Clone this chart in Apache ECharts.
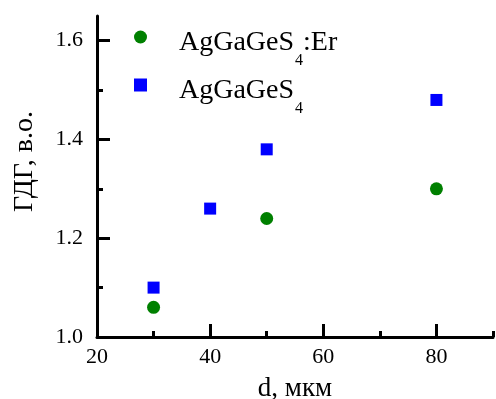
<!DOCTYPE html>
<html>
<head>
<meta charset="utf-8">
<script src="https://cdn.jsdelivr.net/npm/echarts@6/dist/echarts.min.js"></script>
<style>
	html, body { margin: 0; padding: 0; background: #fff; }
	#chart { width: 496px; height: 399px; }
</style>
</head>
<body>
<div id="chart"></div>
<script>
// d, мкм
const erThickness = [30, 50, 80];
const erValues = [1.06, 1.24, 1.3];
const pureThickness = [30, 40, 50, 80];
const pureValues = [1.1, 1.26, 1.38, 1.48];

const xMajorTicks = [20, 40, 60, 80];
const xMinorTicks = [30, 50, 70, 90];
const yMajorTicks = [1.0, 1.2, 1.4, 1.6];
const yMinorTicks = [1.1, 1.3, 1.5];

const FONT = "Liberation Serif";

const toPoints = (xs, ys) => xs.map((x, i) => [x, ys[i]]);

const majorAxis = (min, max, ticks, extra) => ({
	type: "value",
	min,
	max,
	splitLine: { show: false },
	axisLine: { show: true, lineStyle: { color: "#000", width: 3, opacity: 1 } },
	axisTick: { show: true, inside: true, length: 13, lineStyle: { color: "#000", width: 3 }, customValues: ticks },
	axisLabel: { customValues: ticks, color: "#000", fontFamily: FONT, fontSize: 22 },
	...extra
});

// второй ось только для малых делений
const minorAxis = (min, max, ticks, position) => ({
	type: "value",
	min,
	max,
	position,
	splitLine: { show: false },
	axisLine: { show: false },
	axisLabel: { show: false },
	axisTick: { show: true, inside: true, length: 6, lineStyle: { color: "#000", width: 3 }, customValues: ticks }
});

const chart = echarts.init(document.getElementById("chart"));

chart.setOption({
	animation: false,
	grid: { left: 97, top: 16, right: 3, bottom: 62, containLabel: false, outerBoundsMode: "none" },
	legend: {
		orient: "vertical",
		left: 134,
		top: 29,
		padding: 0,
		itemGap: 8,
		itemWidth: 13,
		itemHeight: 13,
		selectedMode: false,
		data: [
			{ name: "er", icon: "circle" },
			{ name: "pure", icon: "rect" }
		],
		formatter: name => (name === "er" ? "{a|AgGaGeS}{s|4}{a|:Er}" : "{a|AgGaGeS}{s|4}"),
		textStyle: {
			padding: [12, 0, 0, 27],
			rich: {
				a: { fontFamily: FONT, fontSize: 28, lineHeight: 28, color: "#000", verticalAlign: "top" },
				s: { fontFamily: FONT, fontSize: 16, lineHeight: 16, color: "#000", verticalAlign: "top", padding: [24, 0, 0, 1] }
			}
		}
	},
	xAxis: [
		majorAxis(20, 90, xMajorTicks, {
			name: "d, мкм",
			nameLocation: "middle",
			nameGap: 38,
			nameTextStyle: { color: "#000", fontFamily: FONT, fontSize: 27 },
			axisLabel: { customValues: xMajorTicks, color: "#000", fontFamily: FONT, fontSize: 22, margin: 9 }
		}),
		minorAxis(20, 90, xMinorTicks, "bottom")
	],
	yAxis: [
		majorAxis(1.0, 1.65, yMajorTicks, {
			name: "ГДГ, в.о.",
			nameLocation: "middle",
			nameGap: 58,
			nameTextStyle: { color: "#000", fontFamily: FONT, fontSize: 28, padding: [0, 0, 0, 30] },
			axisLabel: {
				customValues: yMajorTicks,
				color: "#000",
				fontFamily: FONT,
				fontSize: 22,
				margin: 14,
				formatter: v => v.toFixed(1)
			}
		}),
		minorAxis(1.0, 1.65, yMinorTicks, "left")
	],
	series: [
		{
			name: "er",
			type: "scatter",
			symbol: "circle",
			symbolSize: 13,
			itemStyle: { color: "#008000", opacity: 1 },
			data: toPoints(erThickness, erValues)
		},
		{
			name: "pure",
			type: "scatter",
			symbol: "rect",
			symbolSize: 12,
			itemStyle: { color: "#0000ff", opacity: 1 },
			data: toPoints(pureThickness, pureValues)
		}
	]
});
</script>
</body>
</html>
